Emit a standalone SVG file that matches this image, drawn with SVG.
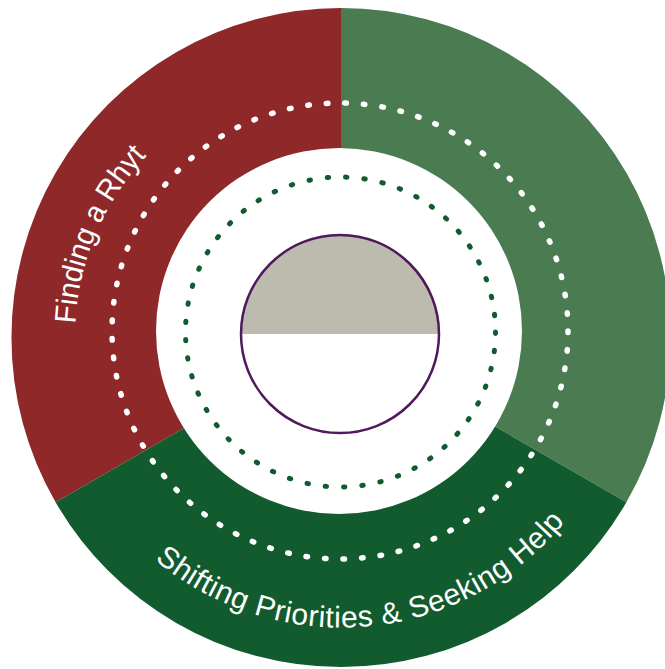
<svg xmlns="http://www.w3.org/2000/svg" width="665" height="669" viewBox="0 0 665 669">
  <style>
    .lbl { font-family: "Liberation Sans", Arial, sans-serif; font-size: 30px; fill: #ffffff; }
    .dotw { fill: none; stroke: #ffffff; stroke-width: 5.5; stroke-linecap: round; }
    .dotg { fill: none; stroke: #115b2f; stroke-width: 5; stroke-linecap: round; }
  </style>
  <defs>
    <path id="arcTop" d="M 75.4 323.6 A 266 266 0 0 1 208 107.1"/>
    <path id="arcBottom" d="M 154.6 559.7 A 290 290 0 0 0 578.6 503.8"/>
  </defs>
  <rect width="665" height="669" fill="#ffffff"/>
  <g id="segment-red">
    <path d="M 341 337.5 L 55.6 502.25 A 329.5 329.5 0 0 1 341 8 Z" fill="#8e2829"/>
  </g>
  <g id="segment-lightgreen">
    <path d="M 341 337.5 L 341 8 A 329.5 329.5 0 0 1 626.4 502.25 Z" fill="#4a7b51"/>
  </g>
  <g id="segment-darkgreen">
    <path d="M 341 337.5 L 626.4 502.25 A 329.5 329.5 0 0 1 55.6 502.25 Z" fill="#115b2f"/>
  </g>
  <g id="hole">
    <circle cx="339" cy="331" r="183" fill="#ffffff"/>
  </g>
  <g id="ring-dotted-white">
    <circle cx="340" cy="331" r="228" class="dotw" stroke-dasharray="1.6 17"/>
  </g>
  <g id="ring-dotted-green">
    <circle cx="340.5" cy="332" r="155" class="dotg" stroke-dasharray="1.4 16.98"/>
  </g>
  <g id="center">
    <path d="M 241 334 A 99 99 0 0 1 439 334 Z" fill="#bdbaae"/>
    <circle cx="340" cy="334" r="99" fill="none" stroke="#4e1a5c" stroke-width="2.5"/>
  </g>
  <g id="label-red">
    <text class="lbl"><textPath href="#arcTop" textLength="186" lengthAdjust="spacingAndGlyphs">Finding a Rhyt</textPath></text>
  </g>
  <g id="label-darkgreen">
    <text class="lbl"><textPath href="#arcBottom" textLength="458" lengthAdjust="spacing">Shifting Priorities &amp; Seeking Help</textPath></text>
  </g>
</svg>
